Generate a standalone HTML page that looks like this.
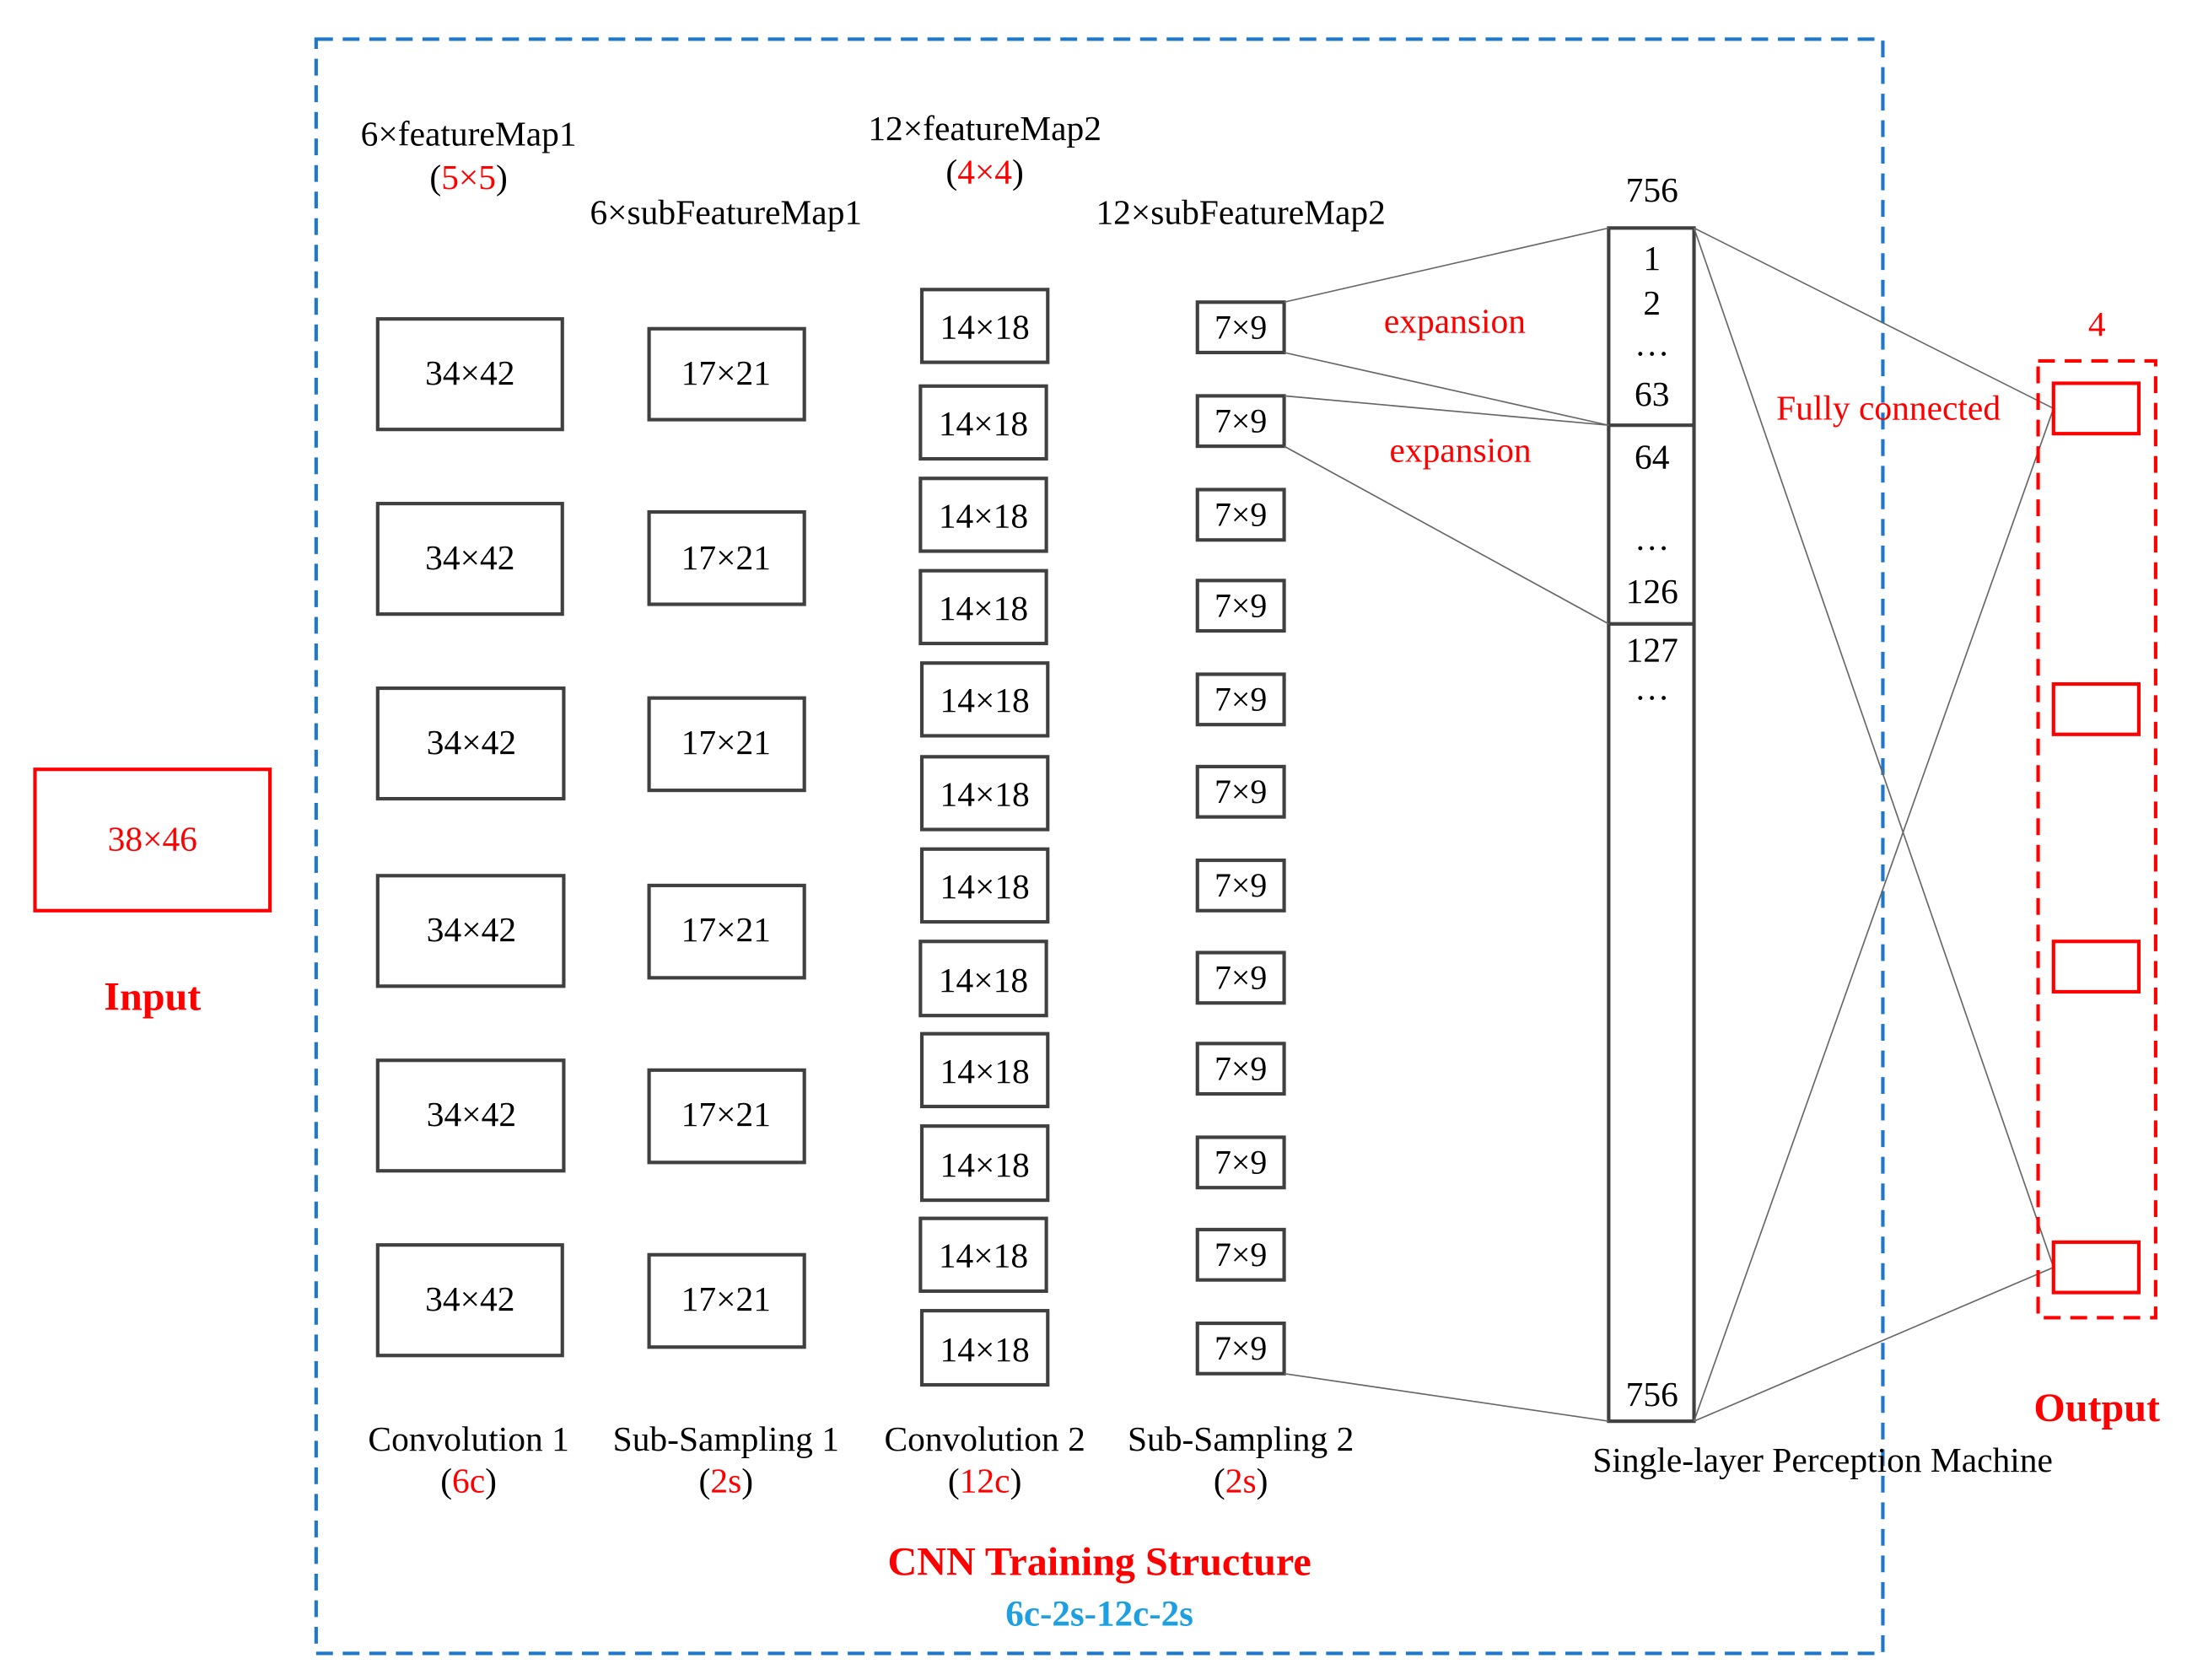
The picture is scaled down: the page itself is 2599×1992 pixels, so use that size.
<!DOCTYPE html>
<html><head><meta charset="utf-8"><style>html,body{margin:0;padding:0;background:#fff}svg{display:block}</style></head><body>
<svg width="2599" height="1992" viewBox="0 0 1567 1201" preserveAspectRatio="none" xmlns="http://www.w3.org/2000/svg" font-family="Liberation Serif, serif">
<rect x="226" y="28" width="1120" height="1154" fill="none" stroke="#1f77c9" stroke-width="2.5" stroke-dasharray="12,7"/>
<rect x="25" y="550" width="168" height="101" fill="none" stroke="#f00" stroke-width="2.5"/>
<text x="109" y="608" font-size="25" fill="#f00" text-anchor="middle">38×46</text>
<text x="109" y="722" font-size="29" font-weight="bold" fill="#f00" text-anchor="middle">Input</text>
<g font-size="25" text-anchor="middle">
<text x="335" y="104">6×featureMap1</text>
<text x="335" y="135">(<tspan fill="#f00">5×5</tspan>)</text>
<text x="519" y="160">6×subFeatureMap1</text>
<text x="704" y="100">12×featureMap2</text>
<text x="704" y="131">(<tspan fill="#f00">4×4</tspan>)</text>
<text x="887" y="160">12×subFeatureMap2</text>
<text x="1181" y="144">756</text>
<text x="335" y="1037">Convolution 1</text><text x="335" y="1067">(<tspan fill="#f00">6c</tspan>)</text>
<text x="519" y="1037">Sub-Sampling 1</text><text x="519" y="1067">(<tspan fill="#f00">2s</tspan>)</text>
<text x="704" y="1037">Convolution 2</text><text x="704" y="1067">(<tspan fill="#f00">12c</tspan>)</text>
<text x="887" y="1037">Sub-Sampling 2</text><text x="887" y="1067">(<tspan fill="#f00">2s</tspan>)</text>
<text x="1303" y="1052">Single-layer Perception Machine</text>
<text x="1499" y="240" fill="#f00">4</text>
<text x="1040" y="238" fill="#f00">expansion</text>
<text x="1044" y="330" fill="#f00">expansion</text>
<text x="1350" y="300" fill="#f00">Fully connected</text>
</g>
<text x="786" y="1126" font-size="29" font-weight="bold" fill="#f00" text-anchor="middle">CNN Training Structure</text>
<text x="786" y="1162" font-size="26" font-weight="bold" fill="#1ea0e0" text-anchor="middle">6c-2s-12c-2s</text>
<text x="1499" y="1016" font-size="29" font-weight="bold" fill="#f00" text-anchor="middle">Output</text>
<g fill="none" stroke="#404040" stroke-width="2.5">
<rect x="270" y="228" width="132" height="79"/><rect x="270" y="360" width="132" height="79"/><rect x="270" y="492" width="133" height="79"/><rect x="270" y="626" width="133" height="79"/><rect x="270" y="758" width="133" height="79"/><rect x="270" y="890" width="132" height="79"/>
<rect x="464" y="235" width="111" height="65"/><rect x="464" y="366" width="111" height="66"/><rect x="464" y="499" width="111" height="66"/><rect x="464" y="633" width="111" height="66"/><rect x="464" y="765" width="111" height="66"/><rect x="464" y="897" width="111" height="66"/>
</g>
<g font-size="25" text-anchor="middle">
<text x="336" y="275">34×42</text><text x="336" y="407">34×42</text><text x="337" y="539">34×42</text><text x="337" y="673">34×42</text><text x="337" y="805">34×42</text><text x="336" y="937">34×42</text>
<text x="519" y="275">17×21</text><text x="519" y="407">17×21</text><text x="519" y="539">17×21</text><text x="519" y="673">17×21</text><text x="519" y="805">17×21</text><text x="519" y="937">17×21</text>
</g>
<g fill="none" stroke="#404040" stroke-width="2.5">
<rect x="659" y="207" width="90" height="52"/><rect x="658" y="276" width="90" height="52"/><rect x="658" y="342" width="90" height="52"/><rect x="658" y="408" width="90" height="52"/><rect x="659" y="474" width="90" height="52"/><rect x="659" y="541" width="90" height="52"/><rect x="659" y="607" width="90" height="52"/><rect x="658" y="673" width="90" height="53"/><rect x="659" y="739" width="90" height="52"/><rect x="659" y="805" width="90" height="53"/><rect x="658" y="871" width="90" height="52"/><rect x="659" y="937" width="90" height="53"/>
<rect x="856" y="216" width="62" height="36"/><rect x="856" y="283" width="62" height="36"/><rect x="856" y="350" width="62" height="36"/><rect x="856" y="415" width="62" height="36"/><rect x="856" y="482" width="62" height="36"/><rect x="856" y="548" width="62" height="36"/><rect x="856" y="615" width="62" height="36"/><rect x="856" y="681" width="62" height="36"/><rect x="856" y="746" width="62" height="36"/><rect x="856" y="813" width="62" height="36"/><rect x="856" y="879" width="62" height="36"/><rect x="856" y="946" width="62" height="36"/>
<rect x="1150" y="163" width="61" height="853"/>
<line x1="1150" y1="304" x2="1211" y2="304"/><line x1="1150" y1="446" x2="1211" y2="446"/>
</g>
<g font-size="25" text-anchor="middle">
<text x="704" y="242">14×18</text><text x="703" y="311">14×18</text><text x="703" y="377">14×18</text><text x="703" y="443">14×18</text><text x="704" y="509">14×18</text><text x="704" y="576">14×18</text><text x="704" y="642">14×18</text><text x="703" y="709">14×18</text><text x="704" y="774">14×18</text><text x="704" y="841">14×18</text><text x="703" y="906">14×18</text><text x="704" y="973">14×18</text>
<g font-size="24"><text x="887" y="242">7×9</text><text x="887" y="309">7×9</text><text x="887" y="376">7×9</text><text x="887" y="441">7×9</text><text x="887" y="508">7×9</text><text x="887" y="574">7×9</text><text x="887" y="641">7×9</text><text x="887" y="707">7×9</text><text x="887" y="772">7×9</text><text x="887" y="839">7×9</text><text x="887" y="905">7×9</text><text x="887" y="972">7×9</text></g>
<text x="1181" y="193">1</text><text x="1181" y="225">2</text><text x="1181" y="254">…</text><text x="1181" y="290">63</text>
<text x="1181" y="335">64</text><text x="1181" y="393">…</text><text x="1181" y="431">126</text>
<text x="1181" y="473">127</text><text x="1181" y="500">…</text><text x="1181" y="1005">756</text>
</g>
<g stroke="#666" stroke-width="1" fill="none">
<line x1="918" y1="216" x2="1150" y2="163"/><line x1="918" y1="252" x2="1150" y2="304"/>
<line x1="918" y1="283" x2="1150" y2="304"/><line x1="918" y1="319" x2="1150" y2="446"/>
<line x1="918" y1="982" x2="1150" y2="1016"/>
<line x1="1211" y1="163" x2="1468" y2="292"/><line x1="1211" y1="163" x2="1468" y2="906"/>
<line x1="1211" y1="1016" x2="1468" y2="292"/><line x1="1211" y1="1016" x2="1468" y2="906"/>
</g>
<rect x="1457" y="258" width="84" height="684" fill="none" stroke="#f00" stroke-width="2.5" stroke-dasharray="12,7"/>
<g fill="none" stroke="#f00" stroke-width="2.5">
<rect x="1468" y="274" width="61" height="36"/><rect x="1468" y="489" width="61" height="36"/><rect x="1468" y="673" width="61" height="36"/><rect x="1468" y="888" width="61" height="36"/>
</g>
</svg>
</body></html>
